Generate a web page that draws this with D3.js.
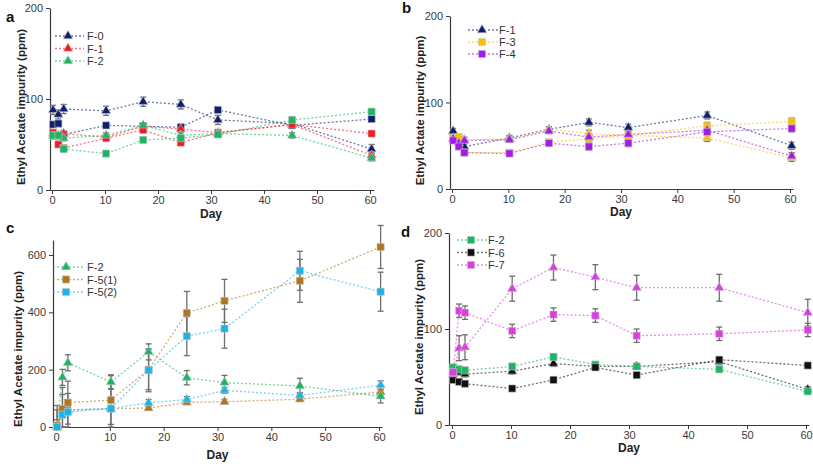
<!DOCTYPE html>
<html>
<head>
<meta charset="utf-8">
<script src="https://cdn.jsdelivr.net/npm/d3@7"></script>
<style>
  body { margin: 0; background: #fff; }
  svg { display: block; font-family: Arial, "Liberation Sans", sans-serif; }
</style>
</head>
<body>
<svg id="chart" width="813" height="464"></svg>
<script>
// ---------- DATA ----------
const days = [0.2, 1.2, 2.2, 10.2, 17.2, 24.3, 31.3, 45.3, 60.3];
const dayTicks = [0, 10, 20, 30, 40, 50, 60];
const yTicksSmall = [0, 100, 200];
const yTicksBig = [0, 200, 400, 600];

// Panel a
const aF0Tri = [88, 83, 89, 87, 97, 94, 77, 73, 45];
const aF0Sq  = [72, 73, 61, 71, 70, 69, 88, 71, 78];
const aF1Tri = [62, 60, 62, 58, 70, 67, 63, 72, 38];
const aF1Sq  = [63, 50, 46, 57, 66, 52, 63, 72, 62];
const aF2Tri = [59, 59, 57, 60, 71, 60, 62, 60, 35];
const aF2Sq  = [60, 60, 45, 40, 55, 57, 61, 77, 86];
const aErrBig = [5, 5, 5, 5, 5, 5, 5, 4, 5];
const aErr = [3, 3, 3, 3, 3, 3, 3, 3, 3];

// Panel b
const bF1Tri = [67, 57, 49, 59, 69, 77, 71, 85, 50];
const bF3Tri = [58, 57, 57, 58, 69, 64, 62, 59, 36];
const bF3Sq  = [59, 60, 42, 42, 54, 58, 62, 73, 78];
const bF4Tri = [58, 53, 56, 57, 67, 60, 63, 68, 38];
const bF4Sq  = [56, 49, 42, 41, 53, 49, 53, 66, 70];
const bErr = [3, 3, 3, 3, 3, 4, 4, 4, 4];

// Panel c
const cF2Tri   = [5, 173, 224, 157, 262, 172, 155, 143, 107];
const cF2Err   = [20, 28, 28, 25, 28, 25, 25, 27, 23];
const cF51Sq   = [5, 63, 85, 94, 200, 398, 440, 510, 628];
const cF51SqErr= [70, 75, 75, 85, 70, 75, 75, 75, 75];
const cF51Tri  = [0, 58, 60, 64, 66, 86, 88, 97, 122];
const cF51TriErr = [10, 10, 10, 10, 8, 8, 8, 8, 10];
const cF52Sq   = [0, 43, 52, 64, 198, 317, 343, 545, 472];
const cF52SqErr= [60, 70, 65, 70, 75, 68, 68, 68, 68];
const cF52Tri  = [0, 55, 58, 65, 84, 96, 128, 110, 146];
const cF52TriErr = [10, 10, 10, 10, 12, 10, 10, 10, 15];

// Panel d
const dF2Sq  = [60, 58, 57, 61, 71, 63, 61, 58, 35];
const dF6Tri = [53, 55, 53, 56, 64, 61, 61, 66, 37];
const dF6Sq  = [47, 45, 43, 38, 47, 60, 52, 68, 62];
const dF7Tri = [53, 80, 81, 142, 164, 154, 143, 143, 117];
const dF7TriErr = [5, 13, 13, 13, 13, 13, 13, 14, 14];
const dF7Sq  = [55, 119, 117, 98, 115, 114, 93, 95, 99];
const dF7SqErr = [5, 7, 7, 7, 7, 7, 7, 7, 7];
const dErr = [3, 3, 3, 3, 3, 3, 3, 3, 3];

// ---------- COLORS ----------
const C = {
  navy: "#0f1f6e", red: "#f01c24", green: "#1db563", gold: "#f8c000",
  purple: "#a51be6", brown: "#b1761c", cyan: "#1cb4e4", black: "#111111",
  magenta: "#d93fdf"
};

// ---------- PANELS ----------
const panels = [
  {
    letter: "a", lx: 6, ly: 22,
    axisX: 50, x0: 52, x60: 370, xRight: 374,
    yBottom: 190, yTopVal: 200, yTopPx: 8, yTicks: yTicksSmall, yMax: 200,
    dayY: 218, titleX: 25, title: "Ethyl Acetate impurity (ppm)",
    series: [
      {v: aF0Tri, e: aErrBig, c: C.navy, m: "tri"},
      {v: aF0Sq, e: aErr, c: C.navy, m: "sq"},
      {v: aF1Tri, e: aErr, c: C.red, m: "tri"},
      {v: aF1Sq, e: aErr, c: C.red, m: "sq"},
      {v: aF2Tri, e: aErr, c: C.green, m: "tri"},
      {v: aF2Sq, e: aErr, c: C.green, m: "sq"}
    ],
    legend: {x1: 55, x2: 84, mx: 68, tx: 87, ys: [36, 48.5, 61],
      items: [["F-0", C.navy, "tri"], ["F-1", C.red, "tri"], ["F-2", C.green, "tri"]]}
  },
  {
    letter: "b", lx: 402, ly: 13,
    axisX: 450, x0: 452, x60: 790, xRight: 793,
    yBottom: 189, yTopVal: 200, yTopPx: 16, yTicks: yTicksSmall, yMax: 200,
    dayY: 216, titleX: 424, title: "Ethyl Actate impurity (ppm)",
    series: [
      {v: bF1Tri, e: bErr, c: C.navy, m: "tri"},
      {v: bF3Tri, e: bErr, c: C.gold, m: "tri"},
      {v: bF3Sq, e: bErr, c: C.gold, m: "sq"},
      {v: bF4Tri, e: bErr, c: C.purple, m: "tri"},
      {v: bF4Sq, e: bErr, c: C.purple, m: "sq"}
    ],
    legend: {x1: 468, x2: 498, mx: 482, tx: 499, ys: [30, 42, 54],
      items: [["F-1", C.navy, "tri"], ["F-3", C.gold, "sq"], ["F-4", C.purple, "sq"]]}
  },
  {
    letter: "c", lx: 6, ly: 233,
    axisX: 53, x0: 56, x60: 379, xRight: 382,
    yBottom: 427, yTopVal: 600, yTopPx: 255, yTicks: yTicksBig, yMax: 652,
    dayY: 459, titleX: 22, title: "Ethyl Acetate impurity (ppm)",
    series: [
      {v: cF51Tri, e: cF51TriErr, c: C.brown, m: "tri"},
      {v: cF52Tri, e: cF52TriErr, c: C.cyan, m: "tri"},
      {v: cF2Tri, e: cF2Err, c: C.green, m: "tri"},
      {v: cF51Sq, e: cF51SqErr, c: C.brown, m: "sq"},
      {v: cF52Sq, e: cF52SqErr, c: C.cyan, m: "sq"}
    ],
    legend: {x1: 53, x2: 85, mx: 66, tx: 87, ys: [267, 279.5, 292],
      items: [["F-2", C.green, "tri"], ["F-5(1)", C.brown, "sq"], ["F-5(2)", C.cyan, "sq"]]}
  },
  {
    letter: "d", lx: 401, ly: 237,
    axisX: 449, x0: 452, x60: 806, xRight: 809,
    yBottom: 425, yTopVal: 200, yTopPx: 233, yTicks: yTicksSmall, yMax: 200,
    dayY: 452, titleX: 423, title: "Ethyl Acetate impurity (ppm)",
    series: [
      {v: dF6Tri, e: dErr, c: C.black, m: "tri"},
      {v: dF2Sq, e: dErr, c: C.green, m: "sq"},
      {v: dF6Sq, e: dErr, c: C.black, m: "sq"},
      {v: dF7Tri, e: dF7TriErr, c: C.magenta, m: "tri"},
      {v: dF7Sq, e: dF7SqErr, c: C.magenta, m: "sq"}
    ],
    legend: {x1: 457, x2: 489, mx: 471, tx: 488, ys: [240, 252.5, 265],
      items: [["F-2", C.green, "sq"], ["F-6", C.black, "sq"], ["F-7", C.magenta, "sq"]]}
  }
];

const svg = d3.select("#chart");
svg.append("rect").attr("width", 813).attr("height", 464).attr("fill", "#fff");

const triPath = d3.symbol().type(d3.symbolTriangle).size(38)();
const sqPath = d3.symbol().type(d3.symbolSquare).size(52)();

function marker(g, type, color, x, y) {
  g.append("path")
    .attr("d", type === "tri" ? triPath : sqPath)
    .attr("transform", `translate(${x},${y})`)
    .attr("fill", color)
    .attr("stroke", "#c8c8c8")
    .attr("stroke-width", 0.6);
}

panels.forEach(p => {
  const k = (p.x60 - p.x0) / 60;
  const x = d3.scaleLinear()
    .domain([(p.axisX - p.x0) / k, 60 + (p.xRight - p.x60) / k])
    .range([p.axisX, p.xRight]);
  const kY = (p.yBottom - p.yTopPx) / p.yTopVal;
  const y = d3.scaleLinear().domain([0, p.yMax]).range([p.yBottom, p.yBottom - p.yMax * kY]);

  const g = svg.append("g");

  // axes
  const xAxis = d3.axisBottom(x).tickValues(dayTicks).tickSize(4).tickSizeOuter(0).tickPadding(2);
  const gx = g.append("g").attr("transform", `translate(0,${p.yBottom})`).call(xAxis);
  const yAxis = d3.axisLeft(y).tickValues(p.yTicks).tickSize(4).tickSizeOuter(0).tickPadding(3);
  const gy = g.append("g").attr("transform", `translate(${p.axisX},0)`).call(yAxis);
  [gx, gy].forEach(a => {
    a.select(".domain").attr("stroke", "#3a3a3a").attr("stroke-width", 1.2);
    a.selectAll(".tick line").attr("stroke", "#3a3a3a");
    a.selectAll(".tick text").attr("fill", "#3a3a3a").style("font-size", "11px")
      .style("font-family", "Arial, 'Liberation Sans', sans-serif");
  });

  // titles
  g.append("text").attr("x", (p.x0 + p.x60) / 2).attr("y", p.dayY)
    .attr("text-anchor", "middle").attr("font-weight", "bold").attr("font-size", 12)
    .attr("fill", "#222").text("Day");
  g.append("text")
    .attr("transform", `translate(${p.titleX},${(p.yBottom + p.yTopPx) / 2 + 8}) rotate(-90)`)
    .attr("text-anchor", "middle").attr("font-weight", "bold").attr("font-size", 11.5)
    .attr("fill", "#222").text(p.title);
  g.append("text").attr("x", p.lx).attr("y", p.ly)
    .attr("font-weight", "bold").attr("font-size", 15).attr("fill", "#111").text(p.letter);

  // lines
  const line = d3.line().x((d, i) => x(days[i])).y(d => y(d));
  p.series.forEach(s => {
    g.append("path").attr("d", line(s.v)).attr("fill", "none")
      .attr("stroke", s.c).attr("stroke-opacity", 0.6).attr("stroke-width", 1.3)
      .attr("stroke-dasharray", "2,2");
  });
  // error bars
  p.series.forEach(s => {
    s.v.forEach((v, i) => {
      const e = s.e[i];
      const cx = x(days[i]);
      const lo = y(Math.max(0, v - e)), hi = y(v + e);
      g.append("line").attr("x1", cx).attr("x2", cx).attr("y1", lo).attr("y2", hi)
        .attr("stroke", "#6e6e6e").attr("stroke-width", 1.3);
      [lo, hi].forEach(yy => g.append("line").attr("x1", cx - 3).attr("x2", cx + 3)
        .attr("y1", yy).attr("y2", yy).attr("stroke", "#6e6e6e").attr("stroke-width", 1.3));
    });
  });
  // markers
  p.series.forEach(s => {
    s.v.forEach((v, i) => marker(g, s.m, s.c, x(days[i]), y(v)));
  });

  // legend
  const L = p.legend;
  L.items.forEach((it, i) => {
    const yy = L.ys[i];
    g.append("line").attr("x1", L.x1).attr("x2", L.x2).attr("y1", yy).attr("y2", yy)
      .attr("stroke", it[1]).attr("stroke-opacity", 0.6).attr("stroke-width", 1.3)
      .attr("stroke-dasharray", "2,2");
    marker(g, it[2], it[1], L.mx, yy);
    g.append("text").attr("x", L.tx).attr("y", yy + 4).attr("font-size", 11)
      .attr("fill", "#333").text(it[0]);
  });
});
</script>
</body>
</html>
